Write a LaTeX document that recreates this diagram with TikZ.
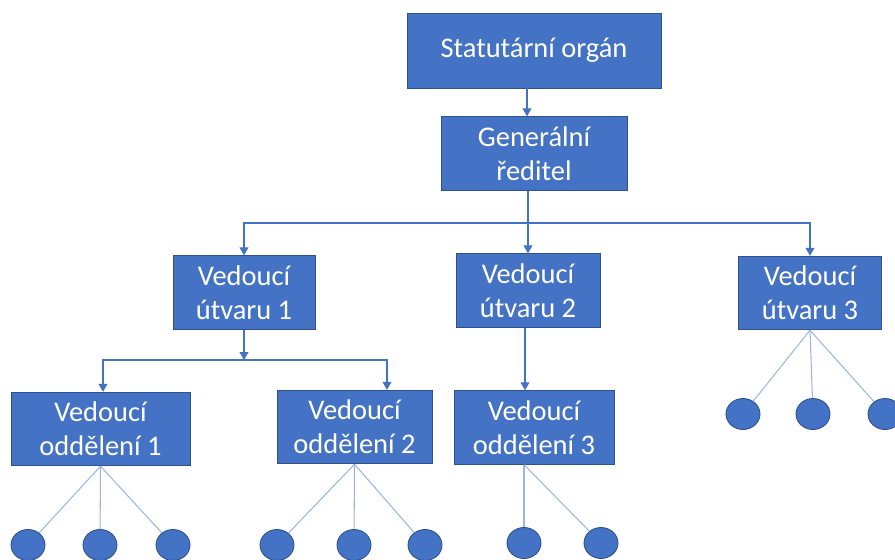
\documentclass[tikz,border=0pt]{standalone}
\usepackage{fontspec}
\setmainfont{Carlito}
\usetikzlibrary{arrows.meta,shapes.geometric}
\definecolor{boxblue}{HTML}{4472C4}
\definecolor{boxline}{HTML}{2F528F}
\definecolor{leafline}{HTML}{9DB5E0}
\begin{document}
\begin{tikzpicture}[
        x=0.02cm,
        y=-0.02cm,
        font=\fontsize{16.2}{19.5}\selectfont
    ]
    \tikzset{
        orgnode/.style = {rectangle, draw=boxline, line width=0.5pt, fill=boxblue, text=white, align=center, inner sep=0pt, minimum height=1.47cm},
        leafnode/.style = {ellipse, draw=boxline, line width=0.5pt, fill=boxblue, inner sep=0pt, minimum width=0.68cm, minimum height=0.62cm},
        edgea/.style = {-{Triangle[width=5pt,length=4.5pt]}, boxblue, line width=0.6pt},
        edgel/.style = {-, leafline, line width=0.6pt},
    }
    \useasboundingbox (0,0) rectangle (895,559);
    \node[orgnode, minimum width=5.08cm, minimum height=1.5cm] at (534,50.5) (stat) {Statutární orgán};
    \node[orgnode, minimum width=3.72cm] at (534,153.5) (gen) {Generální\\ředitel};
    \node[orgnode, minimum width=2.84cm] at (244,292.5) (utv1) {Vedoucí\\útvaru 1};
    \node[orgnode, minimum width=2.88cm] at (528,290.5) (utv2) {Vedoucí\\útvaru 2};
    \node[orgnode, minimum width=2.86cm] at (810,293) (utv3) {Vedoucí\\útvaru 3};
    \node[orgnode, minimum width=3.58cm] at (100.5,429) (odd1) {Vedoucí\\oddělení 1};
    \node[orgnode, minimum width=3.1cm] at (354.5,427) (odd2) {Vedoucí\\oddělení 2};
    \node[orgnode, minimum width=3.2cm] at (534,427.5) (odd3) {Vedoucí\\oddělení 3};
    %
    \node[leafnode] at (28,545) (l11) {};
    \node[leafnode] at (100,545) (l12) {};
    \node[leafnode] at (173,545) (l13) {};
    \node[leafnode] at (277,545) (l21) {};
    \node[leafnode] at (354,545) (l22) {};
    \node[leafnode] at (425,545) (l23) {};
    \node[leafnode] at (524,543) (l31) {};
    \node[leafnode] at (601,543) (l32) {};
    \node[leafnode] at (743,414) (l41) {};
    \node[leafnode] at (813,414) (l42) {};
    \node[leafnode] at (885,414) (l43) {};
    %
    \coordinate (j1) at (528,223);
    \coordinate (j2) at (244,360);
    \coordinate (j3) at (387,360);
    %
    \draw[edgea] ([xshift=-0.14cm]stat.south) -- ([xshift=-0.14cm]stat.south |- gen.north);
    \draw[edgea] (gen.south -| utv2) -- (utv2.north);
    \draw[edgea] (j1) -| (utv1.north);
    \draw[edgea] (j1) -| (utv3.north);
    %
    \draw[edgea] (utv1.south) -- (j2);
    \draw[edgea] (j2) -| ([xshift=0.05cm]odd1.north);
    \draw[edgea] (j2) -- (j3) -- (j3 |- odd2.north);
    \draw[edgea] ([xshift=-0.06cm]utv2.south) -- ([xshift=-0.06cm]utv2.south |- odd3.north);
    %
    \draw[edgel] (odd1.south) -- (l11);
    \draw[edgel] (odd1.south) -- (l12);
    \draw[edgel] (odd1.south) -- (l13);
    \draw[edgel] (odd2.south) -- (l21);
    \draw[edgel] (odd2.south) -- (l22);
    \draw[edgel] (odd2.south) -- (l23);
    \draw[edgel] (odd3.south -| l31) -- (l31);
    \draw[edgel] (odd3.south -| l31) -- (l32);
    \draw[edgel] (utv3.south) -- (l41);
    \draw[edgel] (utv3.south) -- (l42);
    \draw[edgel] (utv3.south) -- (l43);
\end{tikzpicture}
\end{document}
